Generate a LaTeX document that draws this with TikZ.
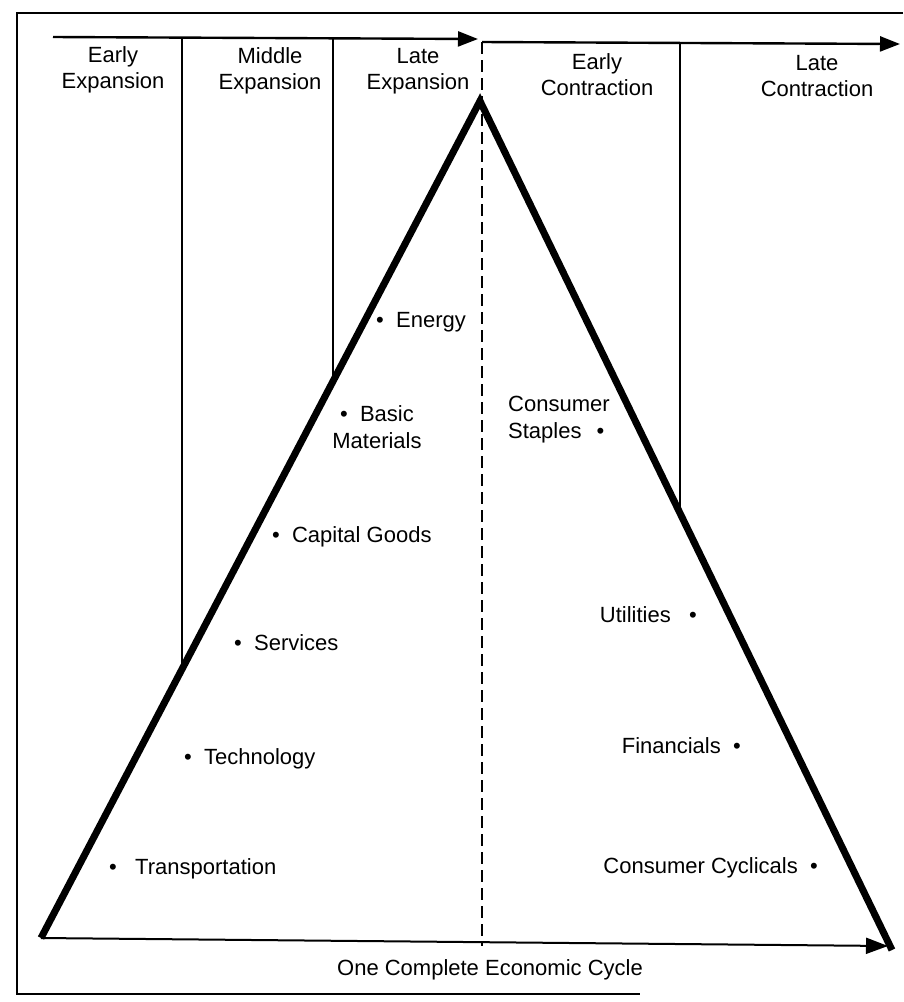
\documentclass[tikz,border=0pt]{standalone}
\usepackage{fontspec}
\setmainfont{Liberation Sans}
\usetikzlibrary{arrows.meta,positioning,calc}
\tikzset{
  phase/.style={font=\fontsize{22}{26}\selectfont,align=center,inner sep=0pt},
  sector/.style={font=\fontsize{22}{27}\selectfont,inner sep=0pt},
  frameline/.style={line width=1.8pt},
  timeline/.style={line width=2.4pt,-{Triangle[length=20pt,width=15pt]}},
  baseline/.style={line width=2pt,-{Triangle[length=22pt,width=16pt]}},
  slope/.style={line width=7pt,line join=miter},
  divider/.style={line width=1.6pt},
  peakline/.style={line width=1.6pt,dash pattern=on 12pt off 6pt}
}

\begin{document}
\begin{tikzpicture}[x=1pt,y=-1pt]
  \useasboundingbox (0,0) rectangle (903,1002);

  % outer frame
  \draw[frameline] (903,13) -- (17,13) -- (17,994) -- (640,994);

  % corners of the cycle
  \coordinate (trough) at (41,938);
  \coordinate (peak) at (480,101);
  \coordinate (corner) at (892,950);
  \coordinate (baseend) at (888,946);

  % time arrows across the top
  \coordinate (expstart) at (53,37);
  \coordinate (expend) at (478,39);
  \coordinate (constart) at (482,42);
  \coordinate (conend) at (900,44);
  \draw[timeline] (expstart) -- (expend);
  \draw[timeline] (constart) -- (conend);

  % where the phase dividers meet the slopes
  \coordinate (cutA) at ($(trough)!0.321!(peak)$);
  \coordinate (cutB) at ($(trough)!0.665!(peak)$);
  \coordinate (cutC) at ($(peak)!0.486!(corner)$);
  \draw[divider] (cutA |- expstart) -- (cutA);
  \draw[divider] (cutB |- expstart) -- (cutB);
  \draw[divider] (cutC |- constart) -- (cutC);
  \draw[peakline] (constart) -- (constart |- baseend);

  % the cycle itself
  \draw[baseline] (trough) -- (baseend);
  \draw[slope] (trough) -- (peak) -- (corner);

  % phase names
  \node[phase] (earlyexp) at (113,70) {Early\\Expansion};
  \node[phase] (middleexp) at (270,71) {Middle\\Expansion};
  \node[phase] (lateexp) at (418,71) {Late\\Expansion};
  \node[phase] (earlycon) at (597,75) {Early\\Contraction};
  \node[phase] (latecon) at (817,76) {Late\\Contraction};

  % sectors leading in the expansion
  \node[sector,anchor=west] (energy) at (376,322) {\textbullet\ \ Energy};
  \node[sector,align=center] (basic) at (377,427) {\textbullet\ \ Basic\\Materials};
  \node[sector,anchor=west] (capital) at (272,537) {\textbullet\ \ Capital Goods};
  \node[sector,anchor=west] (services) at (234,643) {\textbullet\ \ Services};
  \node[sector,anchor=west] (tech) at (184,759) {\textbullet\ \ Technology};
  \node[sector,anchor=west] (transport) at (109,869) {\textbullet\ \ \ Transportation};

  % sectors leading in the contraction
  \node[sector,align=left,anchor=west] (staples) at (508,420) {Consumer\\Staples\hspace{15pt}\textbullet};
  \node[sector,anchor=east] (utilities) at (697,615) {Utilities\ \ \ \textbullet};
  \node[sector,anchor=east] (financials) at (741,746) {Financials\ \ \textbullet};
  \node[sector,anchor=east] (cyclicals) at (818,868) {Consumer Cyclicals\ \ \textbullet};

  \node[sector] (cycle) at (490,970) {One Complete Economic Cycle};
\end{tikzpicture}
\end{document}
